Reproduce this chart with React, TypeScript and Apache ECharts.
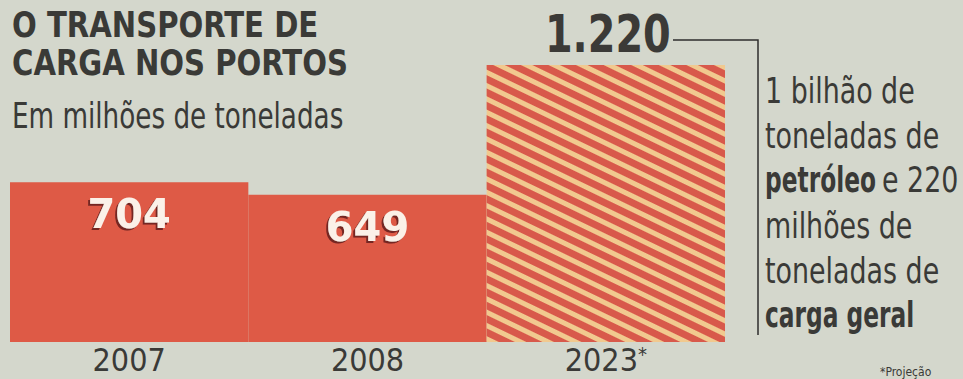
import React, { useEffect, useRef } from "react";
import * as echarts from "echarts";

const years = ["2007", "2008", "2023"];
const values = [704, 649, 1220];
const titleLines = ["O TRANSPORTE DE", "CARGA NOS PORTOS"];
const subtitle = "Em milhões de toneladas";
const noteLines: { bold?: string; text?: string }[] = [
  { text: "1 bilhão de" },
  { text: "toneladas de" },
  { bold: "petróleo", text: "e 220" },
  { text: "milhões de" },
  { text: "toneladas de" },
  { bold: "carga geral" },
];
const footnote = "*Projeção";

const BG = "#d4d7cc";
const RED = "#de5a46";
const TEXT = "#3a3a37";
const FONT = "'DejaVu Sans Condensed', 'DejaVu Sans', sans-serif";

function fmt(v: number) {
  return String(v).replace(/\B(?=(\d{3})+(?!\d))/g, ".");
}

export default function App() {
  const ref = useRef<HTMLDivElement>(null);
  useEffect(() => {
    const chart = echarts.init(ref.current!, null, { renderer: "svg" });
    const data = values.map((v, i) => {
      if (i === 2) {
        return {
          value: v,
          itemStyle: {
            color: "#f1c98f",
            decal: {
              symbol: "rect",
              symbolSize: 1,
              color: "#d8594b",
              dashArrayX: [1, 0],
              dashArrayY: [7, 5],
              rotation: 0.45,
            },
          },
          label: { show: false },
        };
      }
      return { value: v };
    });
    chart.setOption({
      animation: false,
      backgroundColor: BG,
      grid: { left: 10, right: 238, top: 65, bottom: 37 },
      xAxis: {
        type: "category",
        data: years,
        axisLine: { show: false },
        axisTick: { show: false },
        axisLabel: {
          margin: 2,
          fontSize: 32,
          color: TEXT,
          fontFamily: FONT,
          formatter: (v: string) => (v === "2023" ? v + "{s|*}" : v),
          rich: { s: { fontSize: 20, color: TEXT, fontFamily: FONT, verticalAlign: "top", padding: [0, 0, 12, 0] } },
        },
      },
      yAxis: { type: "value", min: 0, max: 1220, show: false, splitLine: { show: false } },
      series: [
        {
          type: "bar",
          data,
          barCategoryGap: 0,
          itemStyle: { color: RED },
          label: {
            show: true,
            position: "insideTop",
            distance: 12,
            color: "#fbf1e8",
            fontSize: 40,
            fontWeight: 900,
            fontFamily: "'DejaVu Sans', sans-serif",
            textShadowColor: "rgba(90,30,20,0.8)",
            textShadowOffsetX: -2,
            textShadowOffsetY: 2,
            textShadowBlur: 1,
          },
        },
      ],
    });

    const [bx, by] = chart.convertToPixel({ xAxisIndex: 0, yAxisIndex: 0 }, [2, values[2]]) as number[];
    const scaled = (text: string, x: number, y: number, size: number, bold: boolean, sx: number, align = "left") => ({
      type: "text",
      x,
      y,
      scaleX: sx,
      style: {
        text,
        font: `${bold ? "bold " : ""}${size}px ${FONT}`,
        fill: TEXT,
        align,
        verticalAlign: "top",
      },
    });
    const noteBase = [103, 148, 192, 238, 283, 327];
    const noteEls: any[] = [];
    noteLines.forEach((ln, i) => {
      const y = noteBase[i] - 0.846 * 36;
      if (ln.bold) {
        noteEls.push(scaled(ln.bold, 765, y, 36, true, 0.72));
        if (ln.text) noteEls.push(scaled(ln.text, 882, y, 36, false, 0.83));
      } else if (ln.text) {
        noteEls.push(scaled(ln.text, 765, y, 36, false, 0.83));
      }
    });

    chart.setOption({
      graphic: [
        scaled(titleLines[0], 12, 6.8, 36, true, 0.9),
        scaled(titleLines[1], 12, 44.8, 36, true, 0.9),
        scaled(subtitle, 12, 97.8, 36, false, 0.81),
        {
          type: "text",
          x: bx + 2,
          y: by - 56,
          scaleX: 0.78,
          style: {
            text: fmt(values[2]),
            font: `900 51px 'DejaVu Sans', sans-serif`,
            fill: "#3b3a37",
            align: "center",
            verticalAlign: "top",
          },
        },
        {
          type: "polyline",
          shape: { points: [[673, 40], [758, 40], [758, 335]] },
          style: { stroke: "#2e2e2c", lineWidth: 1.5, fill: "none" },
        },
        ...noteEls,
        {
          type: "text",
          x: 880,
          y: 366,
          style: { text: footnote, font: `12px ${FONT}`, fill: TEXT, verticalAlign: "top" },
        },
      ],
    });
    return () => chart.dispose();
  }, []);
  return (
    <div
      ref={ref}
      style={{ position: "fixed", left: 0, top: 0, width: 963, height: 379 }}
    />
  );
}
